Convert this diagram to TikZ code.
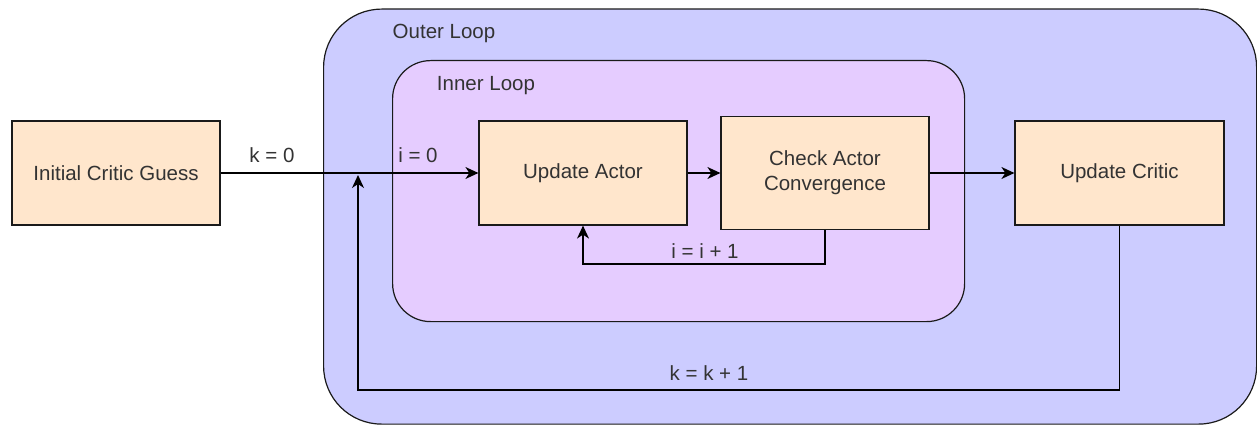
\documentclass[tikz,border=0pt]{standalone}
\usepackage{fontspec}
\setmainfont{Liberation Sans}
\usetikzlibrary{arrows.meta}
\definecolor{outerfill}{HTML}{CCCCFF}
\definecolor{innerfill}{HTML}{E5CCFF}
\definecolor{boxfill}{HTML}{FFE6CC}
\definecolor{txt}{HTML}{333333}
\definecolor{edge}{HTML}{1A1A1A}
\begin{document}
\begin{tikzpicture}[x=1pt,y=-1pt,
  region/.style={draw=edge, line width=1.2pt, anchor=north west, inner sep=0pt},
  stepbox/.style={draw=edge, fill=boxfill, line width=1.2pt, text=txt,
    font=\fontsize{20.5}{25}\selectfont, align=center, inner sep=0pt,
    minimum width=208pt, minimum height=104pt},
  lbl/.style={text=txt, font=\fontsize{20.5}{25}\selectfont, inner sep=0pt},
  conn/.style={draw=black, line width=1.3pt, -{Stealth[length=13pt,width=12pt,inset=4pt]}}
]
\useasboundingbox (0,0) rectangle (1257,425);
\node[region, fill=outerfill, rounded corners=58pt, minimum width=933pt, minimum height=415pt] (outer) at (323,8.5) {};
\node[region, fill=innerfill, rounded corners=38pt, minimum width=572pt, minimum height=261pt] (inner) at (392,60) {};
\node[lbl] (outerlbl) at (444,33) {Outer Loop};
\node[lbl] (innerlbl) at (486,86) {Inner Loop};

\node[stepbox] (init) at (116,173) {Initial Critic Guess};
\node[stepbox] (actor) at (583,173) {Update Actor};
\node[stepbox, minimum height=113pt] (check) at (825,173) {Check Actor\\Convergence};
\node[stepbox, minimum width=209pt] (critic) at (1119.5,173) {Update Critic};

\draw[conn] (init.east) -- (actor.west);
\draw[conn] (actor.east) -- (check.west);
\draw[conn] (check.east) -- (critic.west);

\coordinate (ic) at (825,264);
\draw[conn] (check.south) -- (ic) -| (actor.south);

\coordinate (kc) at (358,390);
\coordinate (kend) at (358,175);
\draw[conn] (critic.south) |- (kc) -- (kend);

\node[lbl] (k0) at (272,155) {k = 0};
\node[lbl] (i0) at (418,155) {i = 0};
\node[lbl] (iinc) at (705,251) {i = i + 1};
\node[lbl] (kinc) at (709,373) {k = k + 1};
\end{tikzpicture}
\end{document}
